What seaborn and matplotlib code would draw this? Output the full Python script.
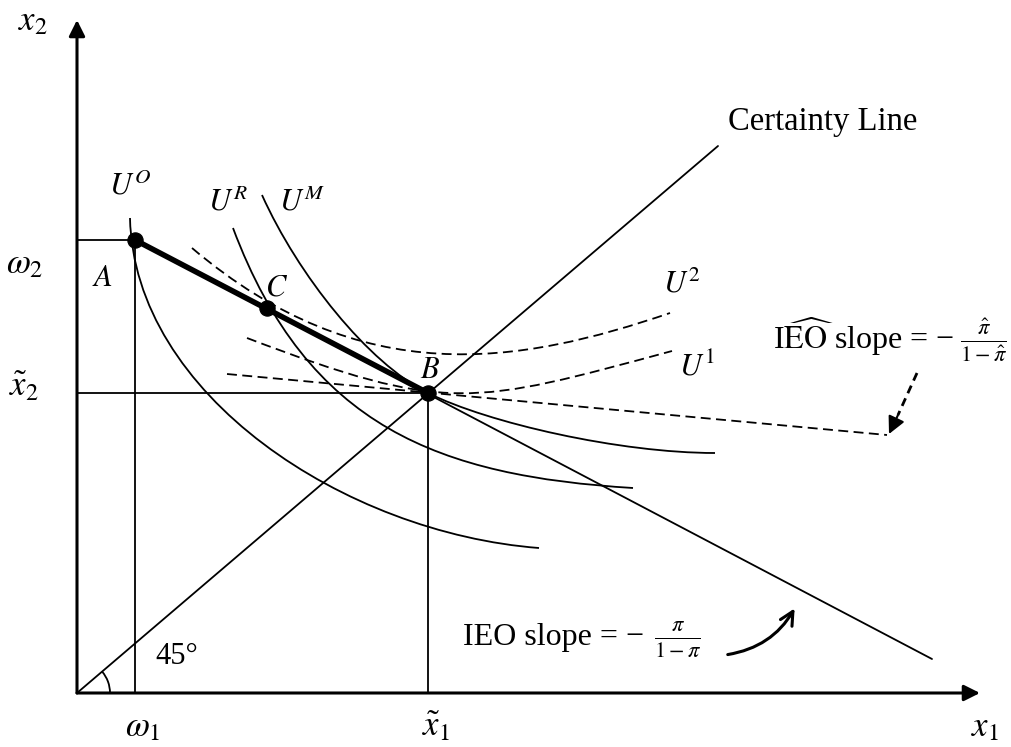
import numpy as np
import pandas as pd
import seaborn as sns
import matplotlib
matplotlib.use("Agg")
import matplotlib.pyplot as plt
from matplotlib.patches import Arc, FancyArrowPatch, PathPatch
from matplotlib.path import Path

# ---- values (pixel coordinates, y downward) ----
origin = [77, 693]
x_axis_tip = [980, 693]
y_axis_tip = [77, 20]

point_x = [135, 428, 267]          # A, B, C
point_y = [240, 393, 308]

omega_guide_x = [77, 135, 135]
omega_guide_y = [240, 240, 693]
tilde_guide_x = [77, 428, 428]
tilde_guide_y = [393, 393, 693]

certainty_x = [77, 718]
certainty_y = [693, 146]

ieo_x = [135, 932]
ieo_y = [240, 659]

thick_x = [135, 428]
thick_y = [240, 393]

ieo_hat_x = [227, 887]
ieo_hat_y = [374, 435]

# Bezier control points of the curves (start, ctrl, ctrl, end, ...)
uo_x = [130, 134, 345, 539]
uo_y = [218, 395, 533, 548]
ur_x = [233, 308, 440, 633]
ur_y = [228, 428, 476, 488]
um_x = [262, 298, 368, 428, 488, 620, 715]
um_y = [195, 275, 363, 393, 423, 453, 453]
u2_x = [192, 362, 520, 670]
u2_y = [248, 392, 364, 313]
u1_x = [247, 447, 472, 672]
u1_y = [338, 414, 405, 351]

hat_arrow_x = [917, 898]
hat_arrow_y = [373, 415]
hat_arrow_tip = [889, 434]
ieo_arrow_start = [725, 655]
ieo_arrow_tip = [796, 606]

# ---- drawing ----
sns.set_theme(style="white")
plt.rcParams["font.family"] = ["Liberation Serif", "DejaVu Serif"]
plt.rcParams["mathtext.fontset"] = "stix"
plt.rcParams["text.color"] = "black"

fig = plt.figure(figsize=(10.12, 7.47), dpi=100)
ax = fig.add_axes([0, 0, 1, 1])

thin = 1.3
dash = (0, (5.5, 3))

def line(xs, ys, lw=thin, ls="-", z=2):
    sns.lineplot(x=xs, y=ys, sort=False, estimator=None, color="black",
                 linewidth=lw, linestyle=ls, ax=ax, zorder=z)

def curve(xs, ys, ls="-", lw=thin):
    verts = list(zip(xs, ys))
    codes = [Path.MOVETO] + [Path.CURVE4] * (len(verts) - 1)
    ax.add_patch(PathPatch(Path(verts, codes), fill=False, edgecolor="black",
                           lw=lw, linestyle=ls, zorder=2))

# guides
line(omega_guide_x, omega_guide_y)
line(tilde_guide_x, tilde_guide_y)
line(certainty_x, certainty_y)
line(ieo_x, ieo_y)
line(ieo_hat_x, ieo_hat_y, ls=dash)
# indifference curves
curve(uo_x, uo_y)
curve(ur_x, ur_y)
curve(um_x, um_y)
curve(u2_x, u2_y, ls=dash)
curve(u1_x, u1_y, ls=dash)
# thick segment A-B
line(thick_x, thick_y, lw=4.0, z=3)

sns.scatterplot(x=point_x, y=point_y, s=120, color="black", edgecolor="black",
                ax=ax, zorder=5)

# axes arrows
for tip in (x_axis_tip, y_axis_tip):
    ax.annotate("", xy=tip, xytext=origin,
                arrowprops=dict(arrowstyle="-|>", lw=2.2, color="black",
                                mutation_scale=24, shrinkA=0, shrinkB=0))

# 45 degree arc (y axis inverted -> negative angles)
ax.add_patch(Arc(origin, 66, 66, theta1=-40.5, theta2=0, color="black", lw=thin))

# dashed arrow to IEO-hat line
line(hat_arrow_x, hat_arrow_y, lw=2.0, ls=(0, (3, 2)))
ax.annotate("", xy=hat_arrow_tip, xytext=(hat_arrow_x[1], hat_arrow_y[1]),
            arrowprops=dict(arrowstyle="-|>", lw=1.5, color="black",
                            mutation_scale=26, shrinkA=0, shrinkB=0, fc="black"))
# curved arrow to IEO line
ax.add_patch(FancyArrowPatch(ieo_arrow_start, ieo_arrow_tip,
                             connectionstyle="arc3,rad=0.25", arrowstyle="->",
                             mutation_scale=24, lw=2.2, color="black"))

def mt(x, y, s, size=21, ha="center", va="center"):
    ax.text(x, y, s, fontsize=size, ha=ha, va=va, color="black")

mt(33, 22, r"$x_2$", 25)
mt(25, 265, r"$\omega_2$", 25)
mt(24, 388, r"$\tilde{x}_2$", 25)
mt(143, 728, r"$\omega_1$", 25)
mt(436, 728, r"$\tilde{x}_1$", 25)
mt(985, 728, r"$x_1$", 25)
mt(102, 279, r"$A$", 22)
mt(430, 370, r"$B$", 22)
mt(277, 288, r"$C$", 22)
mt(130, 187, r"$U^O$", 22)
mt(228, 203, r"$U^R$", 22)
mt(302, 203, r"$U^M$", 22)
mt(682, 285, r"$U^2$", 22)
mt(697, 367, r"$U^1$", 22)
ax.text(155, 657, "45°", fontsize=22, ha="left", va="center", color="black")
ax.text(728, 122, "Certainty Line", fontsize=23.5, ha="left", va="center", color="black")

ax.text(773, 337, r"I$\widehat{\mathrm{EO}}$ slope = −", fontsize=23, ha="left",
        va="center", color="black")
mt(984, 340, r"$\frac{\hat{\pi}}{1-\hat{\pi}}$", 23)
ax.text(463, 637, "IEO slope = −", fontsize=23, ha="left", va="center", color="black")
mt(678, 640, r"$\frac{\pi}{1-\pi}$", 23)

ax.set_xlim(0, 1012)
ax.set_ylim(747, 0)
ax.axis("off")
fig.savefig("out.png", dpi=100, facecolor="white")
